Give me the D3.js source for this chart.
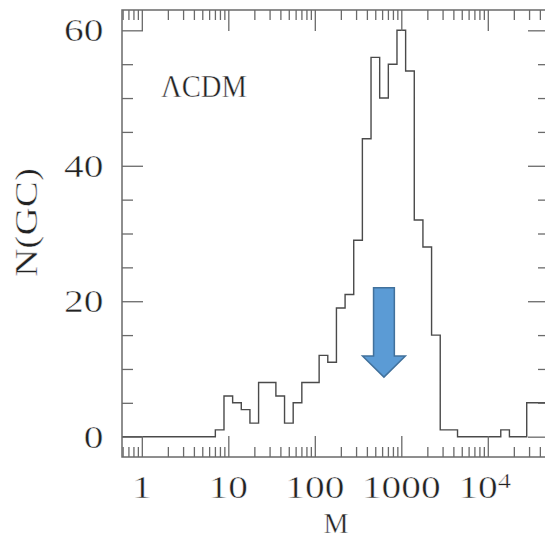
<!DOCTYPE html>
<html>
<head>
<meta charset="utf-8">
<script src="https://cdn.jsdelivr.net/npm/d3@7/dist/d3.min.js"></script>
<style>
  html, body { margin: 0; padding: 0; background: #fff; }
  svg { display: block; }
  text { font-family: "Liberation Serif", "Times New Roman", serif; fill: #222; stroke: #fff; stroke-width: 0.45; paint-order: normal; }
</style>
</head>
<body>
<svg id="chart" width="545" height="539"></svg>
<script>
// ---- data ----
const binLogM = [0.9, 1.0, 1.1, 1.2, 1.3, 1.4, 1.5, 1.6, 1.7, 1.8, 1.9, 2.0,
                 2.1, 2.2, 2.3, 2.4, 2.5, 2.6, 2.7, 2.8, 2.9, 3.0, 3.1, 3.2,
                 3.3, 3.4, 3.5, 3.6, 3.7, 3.8, 3.9, 4.0, 4.1, 4.2, 4.3, 4.4,
                 4.5, 4.6, 4.7];
const nGC = [1, 6, 5, 4, 2, 8, 8, 6, 2, 5, 8, 8,
             12, 11, 19, 21, 29, 44, 56, 50, 55, 60, 54, 32,
             28, 15, 1, 1, 0, 0, 0, 0, 0, 1, 0, 0,
             5, 5, 5];
const binHalfWidthDex = 0.05;
const xMajorTicks = [1, 10, 100, 1000, 10000];
const xTickLabels = ["1", "10", "100", "1000", "10"];
const yMajorTicks = [0, 20, 40, 60];
const yMinorTicks = [5, 10, 15, 25, 30, 35, 45, 50, 55];
const yTickLabels = ["0", "20", "40", "60"];
const modelLabel = "\u039BCDM";
const xTitle = "M";
const yTitle = "N(GC)";
// arrow annotation (data units)
const arrowM = 630, arrowTop = 22, arrowHeadStart = 11.9, arrowTip = 8.8;

// ---- layout ----
const L = 122, R = 549, T = 10, B = 457;
const svg = d3.select("#chart");
const x = d3.scaleLog().domain([0.59, 5.1e4]).range([L, R]);
const y = d3.scaleLinear().domain([-3, 63]).range([B, T]);

const axisColor = "#6a6a6a";
const majorLen = 21, minorLen = 10;

svg.append("defs").append("clipPath").attr("id", "plotclip")
  .append("rect").attr("x", L).attr("y", T).attr("width", R - L).attr("height", B - T);

// ---- histogram (step line) ----
const pts = [[x.domain()[0], 0]];
binLogM.forEach((c, i) => pts.push([Math.pow(10, c - binHalfWidthDex), nGC[i]]));
pts.push([Math.pow(10, binLogM[binLogM.length - 1] + binHalfWidthDex), nGC[nGC.length - 1]]);
const line = d3.line().x(d => x(d[0])).y(d => y(d[1])).curve(d3.curveStepAfter);
svg.append("path")
  .attr("clip-path", "url(#plotclip)")
  .attr("d", line(pts))
  .attr("fill", "none")
  .attr("stroke", "#4a4a4a")
  .attr("stroke-width", 1.4);

// ---- axes / ticks ----
const allX = x.ticks().filter(v => v >= x.domain()[0] && v <= x.domain()[1]);
const xMinor = allX.filter(v => !xMajorTicks.some(m => Math.abs(m - v) / m < 1e-6));

function styleAxis(g) {
  g.select(".domain").remove();
  g.selectAll(".tick line").attr("stroke", axisColor).attr("stroke-width", 1.3);
  g.selectAll(".tick text").remove();
}
svg.append("g").attr("transform", `translate(0,${B})`)
  .call(d3.axisBottom(x).tickValues(xMajorTicks).tickSize(-majorLen).tickFormat("")).call(styleAxis);
svg.append("g").attr("transform", `translate(0,${B})`)
  .call(d3.axisBottom(x).tickValues(xMinor).tickSize(-minorLen).tickFormat("")).call(styleAxis);
svg.append("g").attr("transform", `translate(0,${T})`)
  .call(d3.axisTop(x).tickValues(xMajorTicks).tickSize(-majorLen).tickFormat("")).call(styleAxis);
svg.append("g").attr("transform", `translate(0,${T})`)
  .call(d3.axisTop(x).tickValues(xMinor).tickSize(-minorLen).tickFormat("")).call(styleAxis);
svg.append("g").attr("transform", `translate(${L},0)`)
  .call(d3.axisLeft(y).tickValues(yMajorTicks).tickSize(-majorLen).tickFormat("")).call(styleAxis);
svg.append("g").attr("transform", `translate(${L},0)`)
  .call(d3.axisLeft(y).tickValues(yMinorTicks).tickSize(-minorLen - 1).tickFormat("")).call(styleAxis);
svg.append("g").attr("transform", `translate(${R},0)`)
  .call(d3.axisRight(y).tickValues(yMajorTicks).tickSize(-majorLen).tickFormat("")).call(styleAxis);
svg.append("g").attr("transform", `translate(${R},0)`)
  .call(d3.axisRight(y).tickValues(yMinorTicks).tickSize(-minorLen - 1).tickFormat("")).call(styleAxis);

// frame
svg.append("rect").attr("x", L).attr("y", T).attr("width", R - L).attr("height", B - T)
  .attr("fill", "none").attr("stroke", axisColor).attr("stroke-width", 1.5);

// ---- tick labels ----
const fs = 31, digitAdv = 19.7;
xMajorTicks.forEach((v, i) => {
  const lab = xTickLabels[i];
  if (v === 10000) {
    svg.append("text").attr("x", x(v) + 10).attr("y", 498)
      .attr("text-anchor", "end").attr("font-size", fs)
      .attr("textLength", lab.length * digitAdv).attr("lengthAdjust", "spacingAndGlyphs")
      .text(lab);
    svg.append("text").attr("x", x(v) + 10).attr("y", 488)
      .attr("font-size", 21)
      .attr("textLength", 13.3).attr("lengthAdjust", "spacingAndGlyphs")
      .text("4");
  } else {
    svg.append("text").attr("x", x(v)).attr("y", 498)
      .attr("text-anchor", "middle").attr("font-size", fs)
      .attr("textLength", lab.length * digitAdv).attr("lengthAdjust", "spacingAndGlyphs")
      .text(lab);
  }
});
yMajorTicks.forEach((v, i) => {
  const lab = yTickLabels[i];
  svg.append("text").attr("x", 103.5).attr("y", y(v) + 11)
    .attr("text-anchor", "end").attr("font-size", fs)
    .attr("textLength", lab.length * digitAdv).attr("lengthAdjust", "spacingAndGlyphs")
    .text(lab);
});

// ---- titles ----
svg.append("text").attr("x", 336).attr("y", 533).attr("text-anchor", "middle")
  .attr("font-size", 30).attr("textLength", 25).attr("lengthAdjust", "spacingAndGlyphs")
  .text(xTitle);
svg.append("text").attr("transform", `translate(37,222.5) rotate(-90)`)
  .attr("text-anchor", "middle").attr("font-size", fs)
  .attr("textLength", 109).attr("lengthAdjust", "spacingAndGlyphs")
  .text(yTitle);
svg.append("text").attr("x", 161).attr("y", 97.3)
  .attr("font-size", fs).attr("textLength", 86).attr("lengthAdjust", "spacingAndGlyphs")
  .text(modelLabel);

// ---- arrow annotation ----
const ax = x(arrowM), shaftHW = 10.4, headHW = 21.4;
const arrowPath = d3.path();
arrowPath.moveTo(ax - shaftHW, y(arrowTop));
arrowPath.lineTo(ax + shaftHW, y(arrowTop));
arrowPath.lineTo(ax + shaftHW, y(arrowHeadStart));
arrowPath.lineTo(ax + headHW, y(arrowHeadStart));
arrowPath.lineTo(ax, y(arrowTip));
arrowPath.lineTo(ax - headHW, y(arrowHeadStart));
arrowPath.lineTo(ax - shaftHW, y(arrowHeadStart));
arrowPath.closePath();
svg.append("path").attr("d", arrowPath.toString())
  .attr("fill", "#5b9bd5").attr("stroke", "#41719c").attr("stroke-width", 1.5)
  .attr("stroke-linejoin", "miter");
</script>
</body>
</html>
